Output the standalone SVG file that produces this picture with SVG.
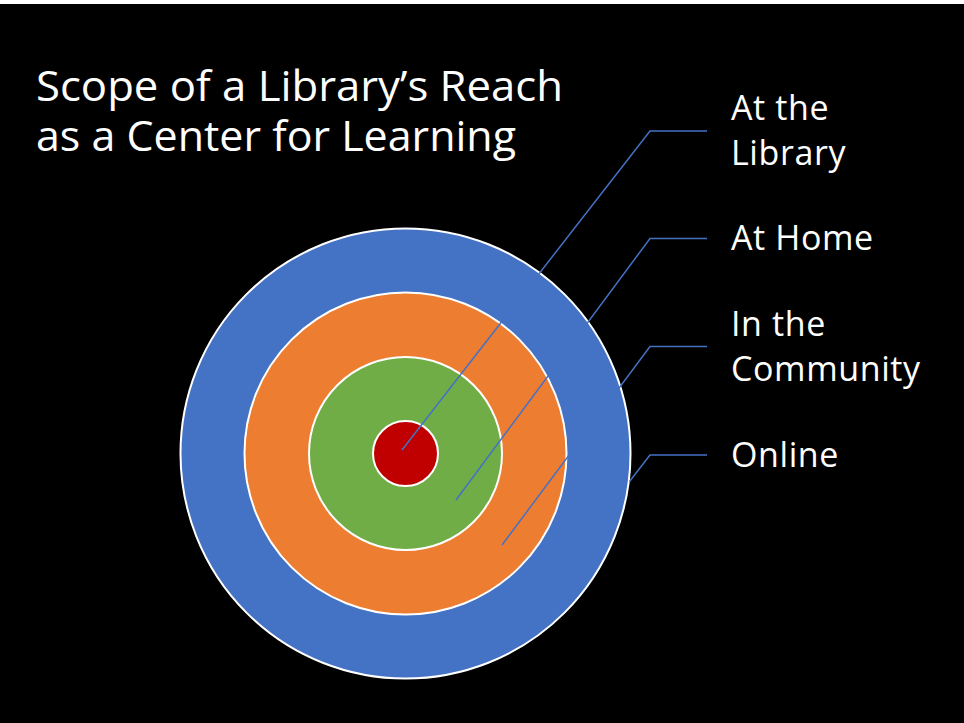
<svg xmlns="http://www.w3.org/2000/svg" width="964" height="723" viewBox="0 0 964 723">
<style>
.ring{stroke:#ffffff;stroke-width:2}
.lead{fill:none;stroke:#4472C4;stroke-width:1.5}
.title{font-family:"Open Sans","Liberation Sans",sans-serif;font-weight:400;font-size:42px;fill:#ffffff}
.lbl{font-family:"Open Sans","Liberation Sans",sans-serif;font-size:34px;letter-spacing:0.6px;fill:#ffffff}
</style>
<rect x="0" y="0" width="964" height="723" fill="#ffffff"/>
<rect x="0" y="4" width="964" height="719" fill="#000000"/>
<g id="title">
<text class="title" x="36" y="101" textLength="527" lengthAdjust="spacingAndGlyphs">Scope of a Library’s Reach</text>
<text class="title" x="36" y="151" textLength="480" lengthAdjust="spacingAndGlyphs">as a Center for Learning</text>
</g>
<g id="online"><circle class="ring" cx="405.5" cy="453.5" r="225" fill="#4472C4"/></g>
<g id="community"><circle class="ring" cx="405.5" cy="453.5" r="161" fill="#ED7D31"/></g>
<g id="home"><circle class="ring" cx="405.5" cy="453.5" r="96.5" fill="#70AD47"/></g>
<g id="library"><circle class="ring" cx="405.5" cy="453.5" r="32.5" fill="#C00000"/></g>
<g id="connectors">
<polyline class="lead" points="707,131 650,131 402,450"/>
<polyline class="lead" points="707,238.5 650,238.5 456,500"/>
<polyline class="lead" points="707,346.5 650,346.5 502,545"/>
<polyline class="lead" points="707,455 650,455 629.5,481.5"/>
</g>
<g id="labels">
<text class="lbl" x="731" y="120">At the</text>
<text class="lbl" x="731" y="165">Library</text>
<text class="lbl" x="731" y="250">At Home</text>
<text class="lbl" x="731" y="336">In the</text>
<text class="lbl" x="731" y="381">Community</text>
<text class="lbl" x="731" y="467">Online</text>
</g>
</svg>
